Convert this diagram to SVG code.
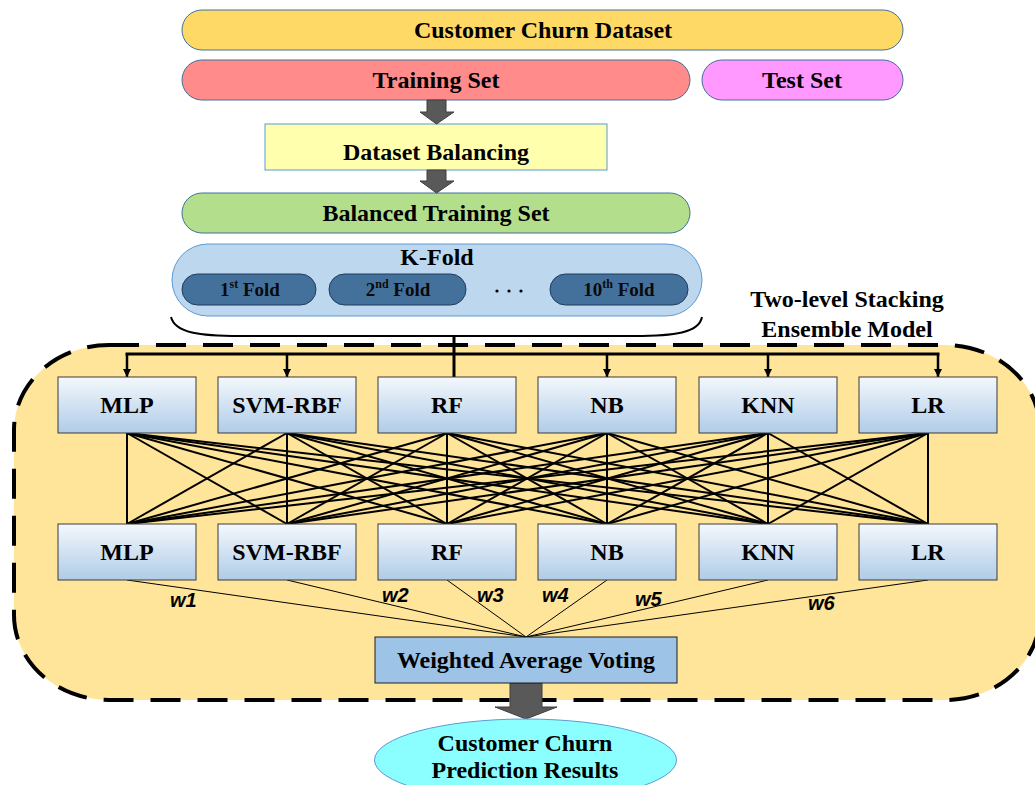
<svg xmlns="http://www.w3.org/2000/svg" width="1035" height="785" viewBox="0 0 1035 785">
<defs>
<linearGradient id="boxg" x1="0" y1="0" x2="0" y2="1">
<stop offset="0" stop-color="#F4F8FC"/>
<stop offset="1" stop-color="#AFCCE8"/>
</linearGradient>
<marker id="ah" viewBox="0 0 10 10" refX="10" refY="5" markerWidth="4" markerHeight="4" orient="auto" markerUnits="strokeWidth">
<path d="M0,0 L10,5 L0,10 z" fill="#000"/>
</marker>
<marker id="ah2" viewBox="0 0 10 10" refX="10" refY="5" markerWidth="3.2" markerHeight="3.6" orient="auto" markerUnits="strokeWidth">
<path d="M0,0 L10,5 L0,10 z" fill="#000"/>
</marker>
</defs>
<style>
.t{font-family:"Liberation Serif","Times New Roman",serif;font-weight:bold;font-size:24px;fill:#000;text-anchor:middle}
.tf{font-family:"Liberation Serif","Times New Roman",serif;font-weight:bold;font-size:19px;fill:#0a0a0a;text-anchor:middle}
.w{font-family:"Liberation Sans",Arial,sans-serif;font-weight:bold;font-style:italic;font-size:20px;fill:#000}
.pill{stroke:#41719C;stroke-width:1}
.mb{fill:url(#boxg);stroke:#3a3a3a;stroke-width:1}
.garrow{fill:#595959;stroke:#3F3F3F;stroke-width:1}
.mesh line{stroke:#000;stroke-width:2}
.thin line{stroke:#000;stroke-width:1}
</style>

<!-- ensemble container -->
<g id="ensemble">
<path d="M109,345 H945 A95,85 0 0 1 1040,430 V615 A95,85 0 0 1 945,700 H109 A95,85 0 0 1 14,615 V430 A95,85 0 0 1 109,345 Z" fill="#FFE599" stroke="#000" stroke-width="4" stroke-dasharray="30 17"/>
<text class="t" x="847" y="307">Two-level Stacking</text>
<text class="t" x="847" y="337">Ensemble Model</text>
</g>

<g id="dataset">
<rect class="pill" x="182" y="10" width="721" height="40" rx="20" fill="#FFD966"/>
<text class="t" x="543" y="38">Customer Churn Dataset</text>
</g>
<g id="training">
<rect class="pill" x="182" y="60" width="508" height="40" rx="20" fill="#FF8B8B"/>
<text class="t" x="436" y="88">Training Set</text>
</g>
<g id="test">
<rect class="pill" x="702" y="60" width="201" height="40" rx="20" fill="#FF99FF"/>
<text class="t" x="802" y="88">Test Set</text>
</g>
<g id="balancing">
<rect x="265" y="124" width="342" height="46" fill="#FFFFAE" stroke="#5B9BD5" stroke-width="1"/>
<text class="t" x="436" y="160">Dataset Balancing</text>
</g>
<g id="balanced">
<rect class="pill" x="182" y="193" width="508" height="40" rx="20" fill="#B3DE8C"/>
<text class="t" x="436" y="221">Balanced Training Set</text>
</g>
<g id="kfold">
<rect x="172" y="244" width="530" height="72" rx="36" fill="#BDD7EE" stroke="#5B9BD5" stroke-width="1"/>
<text class="t" x="437" y="265">K-Fold</text>
<g id="fold1">
<rect x="182" y="274" width="134" height="31" rx="15.5" fill="#44719C" stroke="#1F3A5A" stroke-width="1"/>
<text class="tf" x="250" y="296">1<tspan font-size="12" dy="-8">st</tspan><tspan dy="8"> Fold</tspan></text>
</g>
<g id="fold2">
<rect x="329" y="274" width="137" height="31" rx="15.5" fill="#44719C" stroke="#1F3A5A" stroke-width="1"/>
<text class="tf" x="398" y="296">2<tspan font-size="12" dy="-8">nd</tspan><tspan dy="8"> Fold</tspan></text>
</g>
<g id="folddots">
<circle cx="497" cy="291" r="1.6" fill="#000"/>
<circle cx="509" cy="291" r="1.6" fill="#000"/>
<circle cx="521" cy="291" r="1.6" fill="#000"/>
</g>
<g id="fold10">
<rect x="550" y="274" width="138" height="31" rx="15.5" fill="#44719C" stroke="#1F3A5A" stroke-width="1"/>
<text class="tf" x="619" y="296">10<tspan font-size="12" dy="-8">th</tspan><tspan dy="8"> Fold</tspan></text>
</g>
</g>

<!-- connectors -->
<g id="connectors">
<polygon class="garrow" points="427,100 446,100 446,112 454,112 436.5,124 420,112 427,112"/>
<polygon class="garrow" points="427,170 446,170 446,181 454,181 436.5,193 420,181 427,181"/>
<path d="M171,317 C175,333 200,336 240,336 H454 H634 C674,336 699,333 702,317" fill="none" stroke="#000" stroke-width="2"/>
<line x1="454" y1="336" x2="454" y2="377" stroke="#000" stroke-width="3"/>
<line x1="125.5" y1="354" x2="939.5" y2="354" stroke="#000" stroke-width="3"/>
<g stroke="#000" stroke-width="2.5" fill="none">
<line x1="127" y1="354" x2="127" y2="377" marker-end="url(#ah2)"/>
<line x1="287" y1="354" x2="287" y2="377" marker-end="url(#ah2)"/>
<line x1="607" y1="354" x2="607" y2="377" marker-end="url(#ah2)"/>
<line x1="768" y1="354" x2="768" y2="377" marker-end="url(#ah2)"/>
<line x1="938" y1="354" x2="938" y2="377" marker-end="url(#ah2)"/>
</g>
<g class="mesh">
<line x1="127" y1="433" x2="127" y2="524"/><line x1="127" y1="433" x2="287" y2="524"/><line x1="127" y1="433" x2="447" y2="524"/><line x1="127" y1="433" x2="607" y2="524"/><line x1="127" y1="433" x2="768" y2="524"/><line x1="127" y1="433" x2="928" y2="524"/>
<line x1="287" y1="433" x2="127" y2="524"/><line x1="287" y1="433" x2="287" y2="524"/><line x1="287" y1="433" x2="447" y2="524"/><line x1="287" y1="433" x2="607" y2="524"/><line x1="287" y1="433" x2="768" y2="524"/><line x1="287" y1="433" x2="928" y2="524"/>
<line x1="447" y1="433" x2="127" y2="524"/><line x1="447" y1="433" x2="287" y2="524"/><line x1="447" y1="433" x2="447" y2="524"/><line x1="447" y1="433" x2="607" y2="524"/><line x1="447" y1="433" x2="768" y2="524"/><line x1="447" y1="433" x2="928" y2="524"/>
<line x1="607" y1="433" x2="127" y2="524"/><line x1="607" y1="433" x2="287" y2="524"/><line x1="607" y1="433" x2="447" y2="524"/><line x1="607" y1="433" x2="607" y2="524"/><line x1="607" y1="433" x2="768" y2="524"/><line x1="607" y1="433" x2="928" y2="524"/>
<line x1="768" y1="433" x2="127" y2="524"/><line x1="768" y1="433" x2="287" y2="524"/><line x1="768" y1="433" x2="447" y2="524"/><line x1="768" y1="433" x2="607" y2="524"/><line x1="768" y1="433" x2="768" y2="524"/><line x1="768" y1="433" x2="928" y2="524"/>
<line x1="928" y1="433" x2="127" y2="524"/><line x1="928" y1="433" x2="287" y2="524"/><line x1="928" y1="433" x2="447" y2="524"/><line x1="928" y1="433" x2="607" y2="524"/><line x1="928" y1="433" x2="768" y2="524"/><line x1="928" y1="433" x2="928" y2="524"/>
</g>
<g class="thin">
<line x1="127" y1="580" x2="526" y2="637"/>
<line x1="287" y1="580" x2="526" y2="637"/>
<line x1="447" y1="580" x2="526" y2="637"/>
<line x1="607" y1="580" x2="526" y2="637"/>
<line x1="768" y1="580" x2="526" y2="637"/>
<line x1="928" y1="580" x2="526" y2="637"/>
</g>
<text class="w" x="170" y="607">w1</text>
<text class="w" x="382" y="602">w2</text>
<text class="w" x="477" y="602">w3</text>
<text class="w" x="542" y="602">w4</text>
<text class="w" x="635" y="606">w5</text>
<text class="w" x="808" y="610">w6</text>
<polygon class="garrow" points="510,683 542,683 542,707 557,707 526,719 495,707 510,707"/>
</g>

<!-- base learners -->
<g id="mlp1"><rect class="mb" x="58" y="377" width="138" height="56"/><text class="t" x="127" y="413">MLP</text></g>
<g id="svm1"><rect class="mb" x="218" y="377" width="138" height="56"/><text class="t" x="287" y="413">SVM-RBF</text></g>
<g id="rf1"><rect class="mb" x="378" y="377" width="138" height="56"/><text class="t" x="447" y="413">RF</text></g>
<g id="nb1"><rect class="mb" x="538" y="377" width="138" height="56"/><text class="t" x="607" y="413">NB</text></g>
<g id="knn1"><rect class="mb" x="699" y="377" width="138" height="56"/><text class="t" x="768" y="413">KNN</text></g>
<g id="lr1"><rect class="mb" x="859" y="377" width="138" height="56"/><text class="t" x="928" y="413">LR</text></g>

<g id="mlp2"><rect class="mb" x="58" y="524" width="138" height="56"/><text class="t" x="127" y="560">MLP</text></g>
<g id="svm2"><rect class="mb" x="218" y="524" width="138" height="56"/><text class="t" x="287" y="560">SVM-RBF</text></g>
<g id="rf2"><rect class="mb" x="378" y="524" width="138" height="56"/><text class="t" x="447" y="560">RF</text></g>
<g id="nb2"><rect class="mb" x="538" y="524" width="138" height="56"/><text class="t" x="607" y="560">NB</text></g>
<g id="knn2"><rect class="mb" x="699" y="524" width="138" height="56"/><text class="t" x="768" y="560">KNN</text></g>
<g id="lr2"><rect class="mb" x="859" y="524" width="138" height="56"/><text class="t" x="928" y="560">LR</text></g>

<g id="voting">
<rect x="375" y="637" width="302" height="46" fill="#9DC3E6" stroke="#1F1F1F" stroke-width="1"/>
<text class="t" x="526" y="668">Weighted Average Voting</text>
</g>

<g id="results">
<ellipse cx="525.5" cy="760" rx="151" ry="41" fill="#8BFFFF" stroke="#5B9BD5" stroke-width="1"/>
<text class="t" x="525" y="751">Customer Churn</text>
<text class="t" x="525" y="778">Prediction Results</text>
</g>
</svg>
